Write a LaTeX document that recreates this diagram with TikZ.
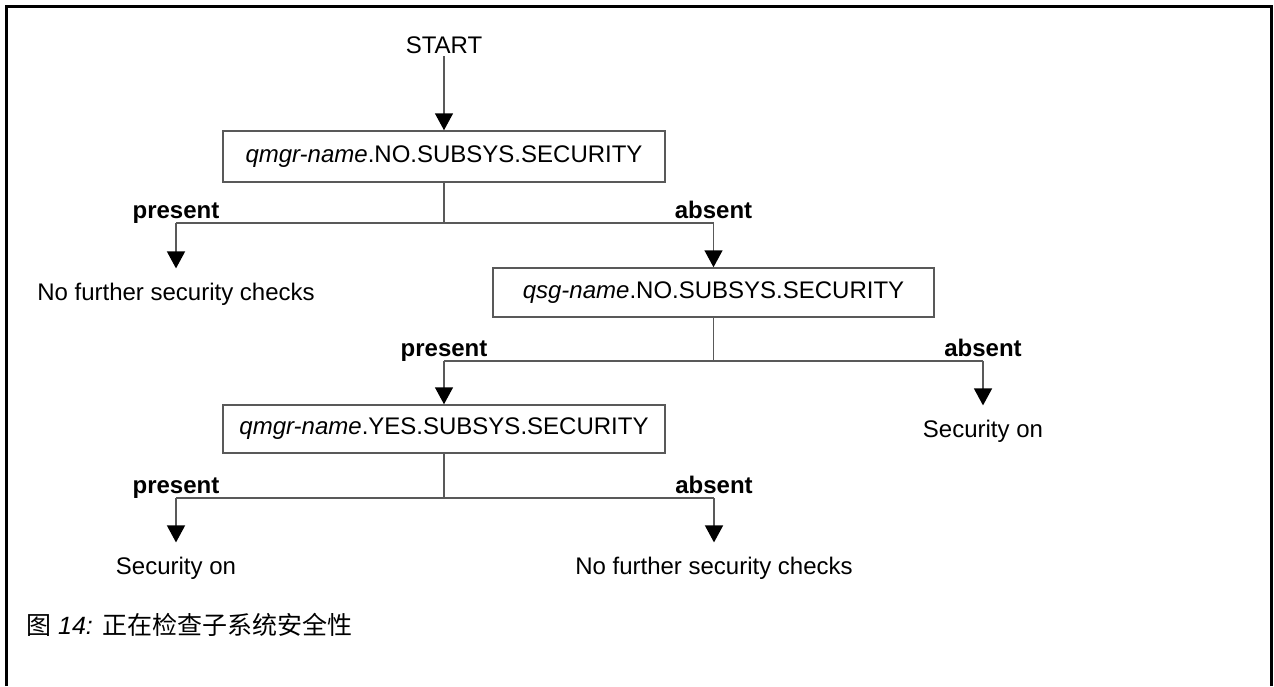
\documentclass[tikz,border=0pt]{standalone}
\usepackage{fontspec}
\setmainfont{Liberation Sans}
\newfontfamily\cjk{Noto Sans CJK SC}
\usepackage{tikz}
\usetikzlibrary{positioning, arrows.meta, calc}

\begin{document}
\begin{tikzpicture}[x=1pt, y=-1pt,
        font=\fontsize{24}{28}\selectfont,
        line/.style={draw=black!65, line width=1.5pt},
        arr/.style={line, -{Triangle[length=17pt, width=18pt, color=black]}},
        test/.style={line, minimum width=442pt, minimum height=50pt, inner sep=0pt},
        result/.style={anchor=base, inner xsep=0pt, inner ysep=14pt},
        lbl/.style={anchor=base, inner sep=0pt, font=\fontsize{24}{28}\selectfont\bfseries}]
        \useasboundingbox (0,0) rectangle (1274,686);

        % Frame, open at the bottom
        \draw[line width=3pt] (6,686) -- (6,6) -- (1271,6) -- (1271,686);

        % Start and the three checks
        \node[anchor=base, inner sep=3pt] (start) at (444,53) {START};
        \node[test, minimum height=51pt] (qmgrno) at (444,156.5) {\textit{qmgr-name}.NO.SUBSYS.SECURITY};
        \node[test, minimum width=441pt, minimum height=49pt] (qsgno) at (713.5,292.5) {\textit{qsg-name}.NO.SUBSYS.SECURITY};
        \node[test, minimum height=48pt] (qmgryes) at (444,429) {\textit{qmgr-name}.YES.SUBSYS.SECURITY};

        % Outcomes
        \node[result] (nocheck1) at (176,300) {No further security checks};
        \node[result] (secon1) at (983,437) {Security on};
        \node[result] (secon2) at (176,574) {Security on};
        \node[result] (nocheck2) at (714,574) {No further security checks};

        % Branch points
        \coordinate (j1) at (444,223);
        \coordinate (c1l) at (176,223);
        \coordinate (c1r) at (713.5,223);
        \coordinate (j2) at (713.5,361);
        \coordinate (c2l) at (444,361);
        \coordinate (c2r) at (983,361);
        \coordinate (j3) at (444,498);
        \coordinate (c3l) at (176,498);
        \coordinate (c3r) at (714,498);

        % Connectors
        \draw[arr] (start) -- (qmgrno);
        \draw[line] (qmgrno) -- (j1);
        \draw[line] (c1l) -- (c1r);
        \draw[arr] (c1l) -- (nocheck1);
        \draw[arr] (c1r) -- (qsgno);

        \draw[line] (qsgno) -- (j2);
        \draw[line] (c2l) -- (c2r);
        \draw[arr] (c2l) -- (qmgryes);
        \draw[arr] (c2r) -- (secon1);

        \draw[line] (qmgryes) -- (j3);
        \draw[line] (c3l) -- (c3r);
        \draw[arr] (c3l) -- (secon2);
        \draw[arr] (c3r) -- (nocheck2);

        % Branch labels
        \node[lbl] (pres1) at ($(c1l)+(0,-5)$) {present};
        \node[lbl] (abs1) at ($(c1r)+(0,-5)$) {absent};
        \node[lbl] (pres2) at ($(c2l)+(0,-5)$) {present};
        \node[lbl] (abs2) at ($(c2r)+(0,-5)$) {absent};
        \node[lbl] (pres3) at ($(c3l)+(0,-5)$) {present};
        \node[lbl] (abs3) at ($(c3r)+(0,-5)$) {absent};

        % Caption
        \node[anchor=base west, inner sep=0pt, font=\fontsize{25}{28}\selectfont] (caption) at (26,634)
            {{\cjk 图} \textit{14:} {\cjk 正在检查子系统安全性}};
    \end{tikzpicture}
\end{document}
